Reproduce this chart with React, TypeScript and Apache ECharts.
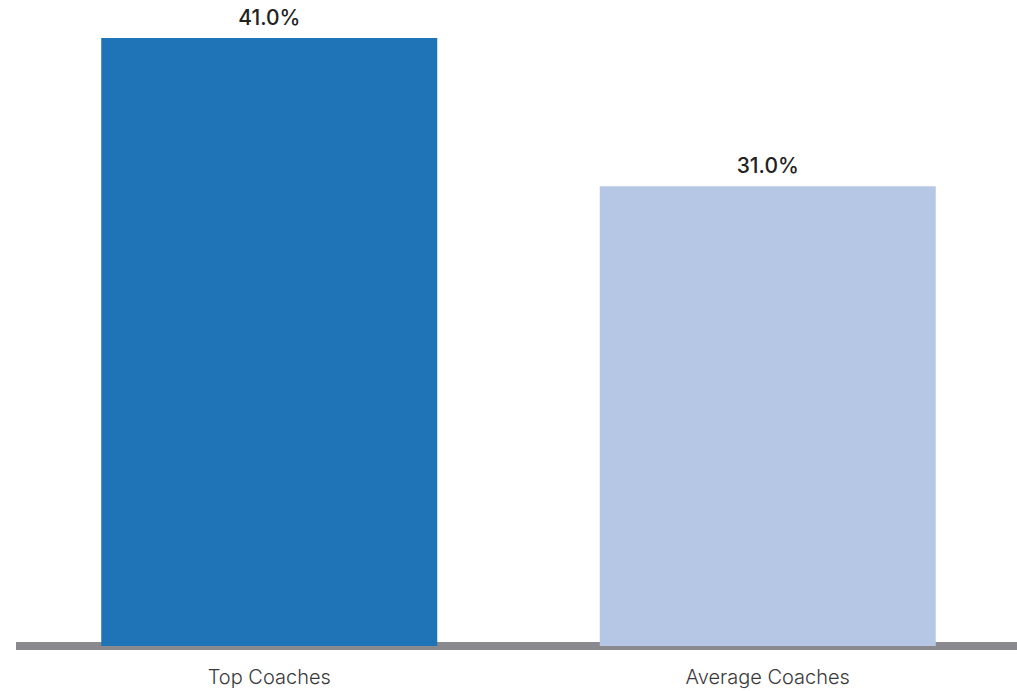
import React, { useEffect, useRef } from "react";
import * as echarts from "echarts";

const categories = ["Top Coaches", "Average Coaches"];
const values = [41.0, 31.0];
const barColors = ["#1f73b7", "#b6c7e5"];

export default function App() {
  const ref = useRef<HTMLDivElement>(null);
  useEffect(() => {
    if (!ref.current) return;
    const chart = echarts.init(ref.current, undefined, { renderer: "svg" });
    chart.setOption({
      animation: false,
      grid: { left: 20, top: 38, width: 1009, height: 608, containLabel: false },
      xAxis: {
        type: "category",
        data: categories,
        axisLine: { show: true, lineStyle: { color: "#8a8a8e", width: 8, cap: "square" } },
        axisTick: { show: false },
        axisLabel: {
          color: "#3a3a3a",
          fontFamily: "Inter",
          fontWeight: 300,
          fontSize: 20,
          margin: 21,
        },
      },
      yAxis: {
        type: "value",
        min: 0,
        max: 41,
        show: false,
        splitLine: { show: false },
      },
      series: [
        {
          type: "bar",
          data: values.map((v, i) => ({ value: v, itemStyle: { color: barColors[i] } })),
          barWidth: 336,
          label: {
            show: true,
            position: "top",
            distance: 10,
            color: "#222",
            fontFamily: "Inter",
            fontWeight: 500,
            fontSize: 21,
            formatter: (p: any) => p.value.toFixed(1) + "%",
          },
        },
      ],
    });
    return () => chart.dispose();
  }, []);
  return (
    <div
      ref={ref}
      style={{ position: "fixed", left: 0, top: 0, width: 1017, height: 691, background: "#fff" }}
    />
  );
}
